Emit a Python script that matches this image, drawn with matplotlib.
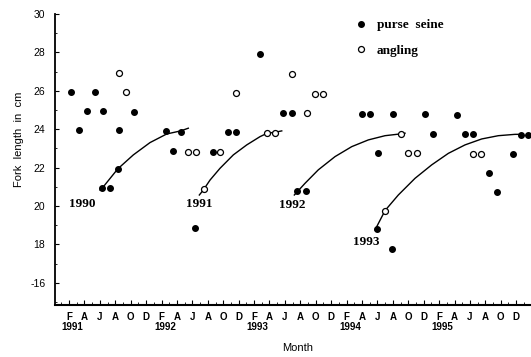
#!/usr/bin/env python3

from matplotlib import pyplot as plt
from matplotlib.lines import Line2D

# month index: 1 = Jan 1991
purse_x = [2.26, 3.3, 4.33, 5.37, 6.37, 8.45, 10.47, 6.28, 7.32, 8.32,
           14.54, 15.53, 16.49, 18.38, 20.64, 22.66, 23.66, 26.81, 29.8, 30.88,
           31.6, 32.74, 39.96, 41.04, 42.04, 41.9, 43.86, 44.06, 48.17, 49.25,
           52.28, 53.36, 54.36, 56.47, 57.47, 59.6, 60.6, 61.55]
purse_y = [25.95, 23.96, 24.95, 25.95, 24.95, 23.96, 24.9, 20.92, 20.92, 21.93,
           23.9, 22.88, 23.87, 18.87, 22.83, 23.87, 23.87, 27.9, 24.83, 24.83,
           20.8, 20.8, 24.78, 24.78, 22.74, 18.79, 17.76, 24.78, 24.78, 23.75,
           24.74, 23.73, 23.73, 21.73, 20.71, 22.7, 23.7, 23.7]

angling_x = [8.45, 9.43, 17.47, 18.47, 19.51, 21.58, 23.7, 27.72, 28.76, 30.88,
             32.83, 33.9, 34.98, 45.06, 46.0, 47.1, 43.0, 54.36, 55.44]
angling_y = [26.94, 25.92, 22.83, 22.83, 20.87, 22.83, 25.87, 23.82, 23.82, 26.87,
             24.83, 25.82, 25.82, 23.75, 22.74, 22.74, 19.76, 22.7, 22.7]

# growth curves of each year class
curve_1990_x = [6.02, 6.45, 8.32, 10.34, 12.5, 14.67, 16.49, 17.47]
curve_1990_y = [20.83, 21.0, 21.93, 22.66, 23.3, 23.75, 23.91, 24.05]
curve_1991_x = [18.9, 19.42, 20.29, 21.58, 23.31, 25.05, 26.77, 27.72, 28.76, 29.59]
curve_1991_y = [20.57, 20.83, 21.35, 21.96, 22.66, 23.18, 23.61, 23.79, 23.84, 23.91]
curve_1992_x = [31.22, 32.61, 34.33, 36.5, 38.67, 40.82, 42.99, 44.93, 45.58]
curve_1992_y = [20.57, 21.18, 21.88, 22.57, 23.09, 23.44, 23.66, 23.75, 23.79]
curve_1993_x = [41.69, 42.99, 44.71, 46.88, 49.04, 51.2, 53.36, 55.53, 57.68, 59.85, 60.71]
curve_1993_y = [18.75, 19.76, 20.57, 21.44, 22.14, 22.74, 23.18, 23.49, 23.66, 23.73, 23.73]

class_labels = ['1990', '1991', '1992', '1993']
class_label_x = [3.65, 18.95, 30.9, 40.5]
class_label_y = [20.1, 20.1, 20.05, 18.1]

month_ticks = list(range(2, 61, 2))
month_letters = ['F', 'A', 'J', 'A', 'O', 'D'] * 5
years = ['1991', '1992', '1993', '1994', '1995']
year_pos = [2, 14, 26, 38, 50]

plt.rcParams['font.family'] = ['Liberation Sans', 'DejaVu Sans']

fig = plt.figure(figsize=(5.31, 3.57), dpi=100)
ax = fig.add_axes([0.1036, 0.1457, 0.8964, 0.8151])

for cx, cy in [(curve_1990_x, curve_1990_y), (curve_1991_x, curve_1991_y),
               (curve_1992_x, curve_1992_y), (curve_1993_x, curve_1993_y)]:
    ax.plot(cx, cy, color='black', linewidth=1.0, zorder=2)

ax.plot(purse_x, purse_y, 'o', color='black', markersize=4.0, zorder=3, clip_on=False)
ax.plot(angling_x, angling_y, 'o', markerfacecolor='white', markeredgecolor='black',
        markeredgewidth=0.9, markersize=4.3, zorder=3, clip_on=False)

for lab, lx, ly in zip(class_labels, class_label_x, class_label_y):
    ax.text(lx, ly, lab, ha='center', va='center', fontsize=9.5,
            family='Liberation Serif', fontweight='bold')

ax.set_xlim(0.18, 61.92)
ax.set_ylim(14.84, 30)

ax.set_xticks(month_ticks)
ax.set_xticklabels(month_letters, fontsize=7, fontweight='bold')
ax.set_xticks(range(1, 62), minor=True)
ax.set_yticks(range(16, 31, 2))
ax.set_yticklabels(['-16', '18', '20', '22', '24', '26', '28', '30'], fontsize=7.5)
ax.set_yticks(range(15, 31), minor=True)
ax.tick_params(axis='x', which='major', direction='in', length=3.5, width=0.8, pad=5)
ax.tick_params(axis='x', which='minor', direction='in', length=2, width=0.6)
ax.tick_params(axis='y', which='major', direction='in', length=3, width=0.8, pad=7)
ax.tick_params(axis='y', which='minor', direction='in', length=1.5, width=0.6)

for yp, yr in zip(year_pos, years):
    ax.annotate(yr, xy=(yp + 0.45, -0.077), xycoords=('data', 'axes fraction'),
                ha='center', va='center', fontsize=7, fontweight='bold')

ax.spines['top'].set_visible(False)
ax.spines['right'].set_visible(False)
ax.spines['left'].set_linewidth(1.3)
ax.spines['bottom'].set_linewidth(1.5)

ax.set_xlabel('Month', fontsize=8)
ax.xaxis.set_label_coords(0.51, -0.13)
ax.set_ylabel('Fork  length  in  cm', fontsize=8)
ax.yaxis.set_label_coords(-0.066, 0.57)

handles = [Line2D([], [], linestyle='none', marker='o', color='black', markersize=4.0),
           Line2D([], [], linestyle='none', marker='o', markerfacecolor='white',
                  markeredgecolor='black', markeredgewidth=0.9, markersize=4.3)]
ax.legend(handles, ['purse  seine', 'angling'], loc='upper left',
          bbox_to_anchor=(0.655, 0.965), bbox_transform=fig.transFigure,
          frameon=False, handlelength=1.0, handletextpad=0.7, labelspacing=1.0,
          borderpad=0, prop={'family': 'Liberation Serif', 'weight': 'bold', 'size': 9.5})

plt.savefig('out.png', dpi=100)
